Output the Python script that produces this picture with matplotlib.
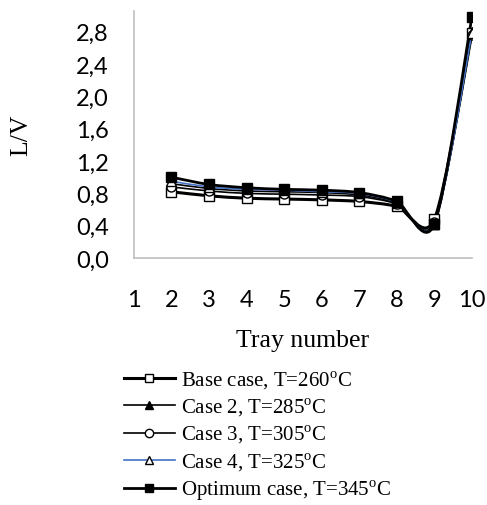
import matplotlib
matplotlib.use("Agg")
import matplotlib.pyplot as plt
from matplotlib.path import Path
from matplotlib.patches import PathPatch
from matplotlib.lines import Line2D
import numpy as np

plt.rcParams['mathtext.fontset'] = 'custom'
plt.rcParams['mathtext.rm'] = 'Liberation Serif'

trays = [2, 3, 4, 5, 6, 7, 8, 9, 10]
base_case = [0.82, 0.77, 0.74, 0.73, 0.72, 0.70, 0.64, 0.48, 2.78]
case2 = [0.92, 0.86, 0.83, 0.82, 0.81, 0.78, 0.68, 0.42, 2.80]
case3 = [0.88, 0.83, 0.80, 0.79, 0.78, 0.76, 0.67, 0.44, 2.76]
case4 = [0.95, 0.88, 0.85, 0.84, 0.82, 0.80, 0.69, 0.42, 2.78]
optimum = [1.00, 0.91, 0.87, 0.85, 0.84, 0.81, 0.70, 0.42, 2.98]

labels = ['Base case, T=260$^{\\rm o}$C', 'Case 2, T=285$^{\\rm o}$C',
          'Case 3, T=305$^{\\rm o}$C', 'Case 4, T=325$^{\\rm o}$C',
          'Optimum case, T=345$^{\\rm o}$C']
xticks = list(range(1, 11))
yticks = [0.0, 0.4, 0.8, 1.2, 1.6, 2.0, 2.4, 2.8]

series = [base_case, case2, case3, case4, optimum]
# colour, line width, marker, marker face
styles = [('black', 2.2, 's', 'white'),
          ('black', 1.2, '^', 'black'),
          ('black', 1.2, 'o', 'white'),
          ('#4472C4', 1.2, '^', 'white'),
          ('black', 2.0, 's', 'black')]


def smooth_path(x, y):
    # Excel-like smoothed line: Catmull-Rom as cubic Bezier
    pts = np.column_stack([x, y]).astype(float)
    ext = np.vstack([pts[0], pts, pts[-1]])
    verts = [pts[0]]
    codes = [Path.MOVETO]
    for i in range(1, len(ext) - 2):
        p0, p1, p2, p3 = ext[i - 1], ext[i], ext[i + 1], ext[i + 2]
        c1 = p1 + (p2 - p0) / 7.0
        c2 = p2 - (p3 - p1) / 7.0
        verts += [c1, c2, p2]
        codes += [Path.CURVE4] * 3
    return Path(verts, codes)


fig = plt.figure(figsize=(4.87, 5.06), dpi=100)
ax = fig.add_axes([0.275, 0.488, 0.694, 0.489])

handles = []
for vals, (c, lw, m, fc) in zip(series, styles):
    ax.add_patch(PathPatch(smooth_path(trays, vals), facecolor='none',
                           edgecolor=c, lw=lw, zorder=2))
    ax.plot(trays, vals, ls='none', marker=m, ms=6.5, mfc=fc, mec='black',
            mew=1.0, zorder=3)
    handles.append(Line2D([], [], color=c, lw=lw, marker=m, ms=6, mfc=fc,
                          mec='black', mew=1.0))

ax.set_xlim(1, 10)
ax.set_ylim(0, 3.06)
ax.set_xticks(xticks)
ax.set_xticklabels([str(v) for v in xticks])
ax.set_yticks(yticks)
ax.set_yticklabels([('%.1f' % v).replace('.', ',') for v in yticks])
ax.tick_params(length=0, labelsize=17)
for lab in ax.get_xticklabels() + ax.get_yticklabels():
    lab.set_family('Lato')
ax.tick_params(axis='y', pad=18)
ax.tick_params(axis='x', pad=22)
for s in ['top', 'right']:
    ax.spines[s].set_visible(False)
for s in ['left', 'bottom']:
    ax.spines[s].set_color('#bfbfbf')
    ax.spines[s].set_linewidth(1.2)

ax.set_xlabel('Tray number', family='Liberation Serif', fontsize=18.5, labelpad=14)
ax.set_ylabel('L/V', family='Liberation Serif', fontsize=18.5)
ax.yaxis.set_label_coords(-0.30, 0.5)

fig.legend(handles, labels, loc='upper left', bbox_to_anchor=(0.254, 0.27),
           frameon=False, prop={'family': 'Liberation Serif', 'size': 15},
           handlelength=2.45, handletextpad=0.3, labelspacing=0.24,
           borderpad=0, borderaxespad=0)

fig.savefig('out.png', dpi=100)
